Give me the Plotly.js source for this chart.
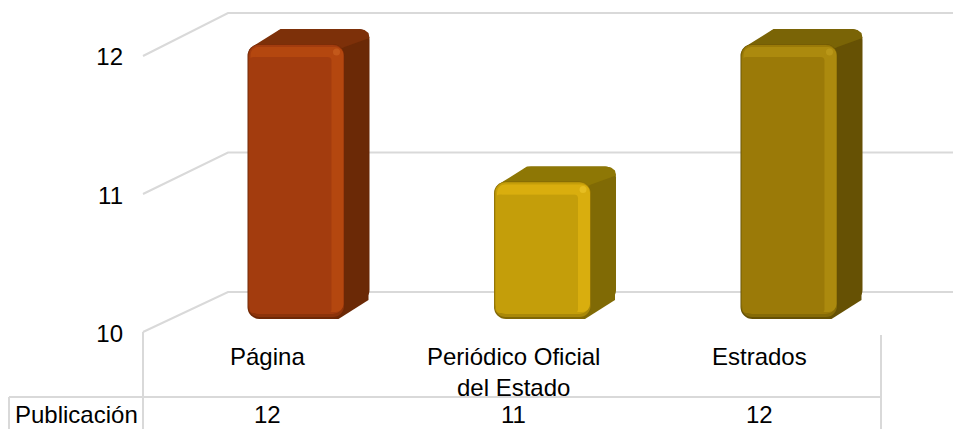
<!DOCTYPE html>
<html><head><meta charset="utf-8">
<script src="https://cdn.plot.ly/plotly-3.0.1.min.js"></script>
<style>html,body{margin:0;padding:0;background:#fff}#c{width:953px;height:429px}</style>
</head><body><div id="c"></div>
<script>
var categories = ["Página", "Periódico Oficial<br>del Estado", "Estrados"];
var values = [12, 11, 12];
var rowLabel = "Publicación";
var tickValues = [10, 11, 12];
var faceColors = ["#A33C0E", "#C49E0A", "#9B7A08"];
var sideColors = ["#6B2906", "#806A05", "#665104"];
var topColors = ["#7D3009", "#8E7705", "#7A6406"];
var lightColors = ["#B4470F", "#D9AE0E", "#AC8A0E"];
var hotColors = ["#C9601F", "#EBC52A", "#BF9C1C"];
var edgeColors = ["#6E2806", "#806705", "#655004"];
var midColors = ["#8C330A", "#A98808", "#856A06"];

var W = 953, H = 429, FONT = "Liberation Sans, Arial, sans-serif", FS = 24;
var BAR0 = 296, PITCH = 246.5, BARW = 97, DX = 26, DY = 15;
function X(p) { return (p - BAR0) / PITCH; }
function axisRange(pxAt10, pxAt12) {
  var s = (pxAt10 - pxAt12) / 2;
  return [10 - (H - pxAt10) / s, 10 + pxAt10 / s];
}
var backSlope = (292 - 13) / 2, frontSlope = (319 - 44) / 2, labelSlope = (332 - 56) / 2;
function backFromLabel(v) {
  var px = 332 - labelSlope * (v - 10);
  return 10 + (292 - px) / backSlope;
}
function up(px) { return px / frontSlope; }
var idx = [0, 1, 2];
var traces = [];

tickValues.forEach(function (v) {
  traces.push({ type: "scatter", mode: "lines", xaxis: "x", yaxis: "y", hoverinfo: "skip", showlegend: false,
    x: [X(143), X(228), X(953)], y: [backFromLabel(v), v, v],
    line: { color: "#D9D9D9", width: 2 } });
});
traces.push({ type: "scatter", mode: "markers", xaxis: "x", yaxis: "y3", x: idx, y: values, marker: { opacity: 0, size: 1 }, hoverinfo: "skip", showlegend: false });

// Rounded box as one bar, on the chosen overlay axis
function box(axis, colors, left, width, bottomInset, topInset, radius, opacity) {
  traces.push({ type: "bar", xaxis: "x", yaxis: axis, showlegend: false, hoverinfo: "skip", x: idx,
    base: values.map(function () { return 10 + up(bottomInset); }),
    y: values.map(function (v) { return v - up(topInset) - (10 + up(bottomInset)); }),
    offset: left / PITCH, width: width / PITCH, opacity: opacity === undefined ? 1 : opacity,
    marker: { color: colors, line: { width: 0 }, cornerradius: radius } });
}
function strip(colors, left, width, fromTop, toTop, opacity) {
  traces.push({ type: "bar", xaxis: "x", yaxis: "y4", showlegend: false, hoverinfo: "skip", x: idx,
    base: values.map(function (v) { return v - up(toTop); }),
    y: values.map(function () { return up(toTop - fromTop); }),
    offset: left / PITCH, width: width / PITCH, opacity: opacity,
    marker: { color: colors, line: { width: 0 } } });
}
function poly(i, color, pts) {
  traces.push({ type: "scatter", mode: "lines", fill: "toself", fillcolor: color, line: { width: 0, color: color },
    xaxis: "x", yaxis: "y2", showlegend: false, hoverinfo: "skip",
    x: pts.map(function (p) { return i + p[0] / PITCH; }),
    y: pts.map(function (p) { return p[1](values[i]); }) });
}
function fromBase(px) { return function () { return 10 + up(px); }; }
function fromTop(px) { return function (v) { return v + up(px); }; }

// back of the solid: side colour, with a rounded outline
box("y2", sideColors, -BARW / 2 + 26, BARW - 1, 18, -DY, 11);
idx.forEach(function (i) {
  var r = BARW / 2;
  poly(i, sideColors[i], [[r - 14, fromBase(0)], [r - 6, fromBase(0)], [r + 24, fromBase(19)], [r + 24, fromTop(5)], [r - 4, fromTop(0)]]);
  poly(i, topColors[i], [[-r + 4, fromTop(-4)], [-r + 9, fromTop(0)], [-r + 33, fromTop(DY)], [r + 15, fromTop(DY)], [r + 20, fromTop(DY - 1)], [r + 24, fromTop(DY - 4)], [r + 25, fromTop(DY - 9)], [r, fromTop(-3)], [r - 6, fromTop(-6)]]);
});
// front face: dark edge, mid tone, face, then bevel highlights
box("y4", edgeColors, -BARW / 2, BARW, 0, 0, 12);
box("y4", midColors, -BARW / 2 + 0.5, BARW - 1, 2, 0.5, 11);
box("y4", faceColors, -BARW / 2 + 1.5, BARW - 3, 5, 1, 10);
box("y4", lightColors, -BARW / 2 + 3, BARW - 4, 7, 3, 8);
box("y4", faceColors, -BARW / 2 + 2, BARW - 15, 6, 13, 4);
strip(lightColors, -BARW / 2 + 8, BARW - 21, 10, 13, 0.5);
traces.push({ type: "scatter", mode: "markers", xaxis: "x", yaxis: "y4", hoverinfo: "skip", showlegend: false,
  x: idx.map(function (i) { return i + (BARW / 2 - 8) / PITCH; }),
  y: values.map(function (v) { return v - up(8); }),
  marker: { size: 7, color: hotColors, opacity: 0.7, line: { width: 0 } } });

var rows = [];
var catCenters = [267, 513, 759];
categories.forEach(function (c, i) {
  rows.push({ xref: "x", yref: "paper", x: X(catCenters[i]), y: 1 - 341 / H, yanchor: "top", xanchor: "center", text: c, showarrow: false, align: "center",
    font: { family: FONT, size: FS, color: "#000" } });
  rows.push({ xref: "x", yref: "paper", x: X(catCenters[i]), y: 1 - 414 / H, yanchor: "middle", xanchor: "center", text: String(values[i]), showarrow: false,
    font: { family: FONT, size: FS, color: "#000" } });
});
rows.push({ xref: "paper", yref: "paper", x: 76 / W, y: 1 - 414 / H, yanchor: "middle", xanchor: "center", text: rowLabel, showarrow: false,
  font: { family: FONT, size: FS, color: "#000" } });

function seg(x0, y0, x1, y1) {
  return { type: "line", xref: "paper", yref: "paper", x0: x0 / W, x1: x1 / W, y0: 1 - y0 / H, y1: 1 - y1 / H, line: { color: "#D9D9D9", width: 2 }, layer: "below" };
}
var layout = {
  width: W, height: H, margin: { l: 0, r: 0, t: 0, b: 0, pad: 0 },
  paper_bgcolor: "#fff", plot_bgcolor: "rgba(0,0,0,0)", showlegend: false, barmode: "overlay",
  font: { family: FONT, size: FS, color: "#000" },
  xaxis: { range: [X(0), X(W)], visible: false, fixedrange: true },
  yaxis: { range: axisRange(292, 13), visible: false, fixedrange: true },
  yaxis2: { range: axisRange(319, 44), overlaying: "y", visible: false, fixedrange: true },
  yaxis4: { range: axisRange(319, 44), overlaying: "y", visible: false, fixedrange: true },
  yaxis3: { range: axisRange(334, 57), overlaying: "y", anchor: "free", position: 143 / W, side: "left",
    tickmode: "array", tickvals: tickValues, ticktext: tickValues.map(String), ticks: "", ticklabelstandoff: 20,
    showgrid: false, zeroline: false, showline: false, tickfont: { family: FONT, size: FS, color: "#000" }, fixedrange: true },
  shapes: [seg(143, 332, 143, 429), seg(881, 335, 881, 429), seg(9, 397, 881, 397), seg(9, 397, 9, 429)],
  annotations: rows
};
Plotly.newPlot("c", traces, layout, { displayModeBar: false, staticPlot: true });
</script></body></html>
